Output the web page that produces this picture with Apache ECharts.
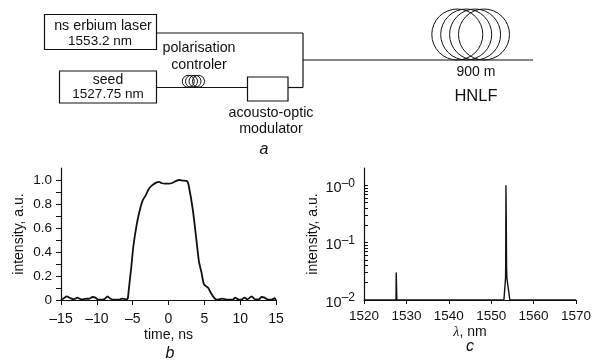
<!DOCTYPE html>
<html>
<head>
<meta charset="utf-8">
<style>html,body{margin:0;padding:0;background:#fff}#main{width:601px;height:360px}</style>
<script src="https://cdn.jsdelivr.net/npm/echarts@6/dist/echarts.min.js"></script>
</head>
<body>
<div id="main"></div>
<script>
// panel b: pulse shape
var pulseTime = [-15,-14.6,-14.2,-13.7,-13.2,-12.7,-12.2,-11.6,-11,-10.6,-10.2,-9.8,-9,-8.5,-8.1,-7.5,-6.8,-6.5,-6,-5.7,-5.5,-5.2,-4.9,-4.4,-4,-3.6,-3.2,-2.8,-2.3,-1.65,-1.3,-1,-0.5,0,0.5,1,1.5,2,2.6,2.8,3.4,3.8,4.25,4.6,4.95,5.55,5.9,6.4,6.7,7,7.5,8,8.5,9,9.3,9.7,10.2,10.6,11,11.6,12.1,12.6,13,13.4,13.9,14.4,14.8,15];
var pulseValue = [0,0.015,0.03,0.015,0.005,0.02,0.005,0.01,0.012,0.025,0.02,0.003,0.005,0.03,0.01,0.002,0.003,0.012,0.005,0.01,0.11,0.27,0.45,0.64,0.75,0.83,0.87,0.92,0.955,0.98,0.985,0.975,0.97,0.97,0.975,0.99,1,0.995,0.99,0.96,0.75,0.55,0.32,0.23,0.13,0.1,0.06,0.015,0.003,0.005,0.012,0.005,0.003,0.003,0.02,0.005,0.003,0.02,0.005,0.03,0.005,0.005,0.025,0.02,0.003,0.003,0.015,0];
var pulseTicks = [0,0.1,0.2,0.3,0.4,0.5,0.6,0.7,0.8,0.9,1];
var pulseLabels = [0,0.2,0.4,0.6,0.8,1];

// panel c: spectrum
var specWave = [1520,1527.55,1527.6,1527.7,1527.75,1553,1553.38,1553.42,1553.48,1553.55,1553.62,1553.7,1554.4,1570];
var specValue = [0.01,0.01,0.03,0.03,0.01,0.01,0.024,0.04,1,0.27,0.04,0.024,0.01,0.01];
var specTicks = [0.01,0.02,0.03,0.04,0.05,0.06,0.07,0.08,0.09,0.1,0.2,0.3,0.4,0.5,0.6,0.7,0.8,0.9,1];
var specLabels = [0.01,0.1,1];

var font = '"Liberation Sans", Arial, sans-serif';
var black = '#111';

function pairs(xs, ys) {
  return xs.map(function (x, i) { return [x, ys[i]]; });
}

function label(text, x, y, size, style) {
  return { type: 'text', x: x, y: y, style: {
    text: text, fill: black, font: (style || '') + ' ' + size + 'px ' + font,
    align: 'center', verticalAlign: 'middle'
  } };
}
function wire(x1, y1, x2, y2) {
  return { type: 'line', shape: { x1: x1, y1: y1, x2: x2, y2: y2 }, style: { stroke: black, lineWidth: 1.2 } };
}
function box(x, y, w, h) {
  return { type: 'rect', shape: { x: x, y: y, width: w, height: h }, style: { fill: '#fff', stroke: black, lineWidth: 1.2 } };
}
function coil(cx, cy, r) {
  return { type: 'circle', shape: { cx: cx, cy: cy, r: r }, style: { fill: 'none', stroke: black, lineWidth: 1 } };
}

// schematic a
var schematic = [
  wire(156.5, 33, 303, 33), wire(303, 33, 303, 87.5), wire(303, 87.5, 288, 87.5),
  wire(156.5, 87.5, 247.5, 87.5), wire(303, 60, 533, 60),
  box(44.5, 14.5, 112, 35), box(59.5, 71, 97, 32), box(247.5, 77, 40.5, 24),
  coil(457.3, 34.5, 25.5), coil(466.2, 34.5, 25.5), coil(475.1, 34.5, 25.5), coil(484, 34.5, 25.5),
  coil(188.3, 81.3, 6), coil(191.5, 81.3, 6), coil(195, 81.3, 6), coil(198.5, 81.3, 6),
  label('ns erbium laser', 103, 26, 14.3), label('1553.2 nm', 100, 41.5, 13.5),
  label('seed', 108, 80, 14), label('1527.75 nm', 108, 94.5, 13.5),
  label('polarisation', 199, 48, 14.3), label('controler', 199, 65, 14.3),
  label('acousto-optic', 271, 113, 14.3), label('modulator', 271, 129.5, 14.3),
  label('a', 264, 150, 16, 'italic'),
  label('900 m', 476, 72.5, 14), label('HNLF', 476, 96, 16.5),
  label('b', 170, 354, 16, 'italic'), label('c', 470, 347, 16, 'italic')
];

var axisLine = { onZero: false, lineStyle: { color: black, width: 1.2 } };
var tickLine = { color: black, width: 1 };

var option = {
  animation: false,
  textStyle: { fontFamily: font },
  graphic: schematic,
  grid: [
    { left: 61, top: 168, width: 215, height: 132 },
    { left: 364, top: 168, width: 212, height: 132 }
  ],
  xAxis: [
    {
      type: 'value', gridIndex: 0, min: -15, max: 15, interval: 5,
      axisLine: axisLine,
      axisTick: { length: 5, lineStyle: tickLine },
      splitLine: { show: false },
      axisLabel: {
        color: black, fontSize: 14, margin: 12, showMinLabel: true, showMaxLabel: true,
        formatter: function (v) { return String(v).replace('-', '\u2013'); }
      },
      name: 'time, ns', nameLocation: 'middle', nameGap: 28,
      nameTextStyle: { color: black, fontSize: 14 }
    },
    {
      type: 'value', gridIndex: 1, min: 1520, max: 1570, interval: 10,
      axisLine: axisLine,
      axisTick: { length: 4, lineStyle: tickLine },
      splitLine: { show: false },
      axisLabel: {
        color: black, fontSize: 13.5, margin: 9, showMinLabel: true, showMaxLabel: true,
        formatter: function (v) { return String(v); }
      },
      name: '{i|\u03bb}, nm', nameLocation: 'middle', nameGap: 25,
      nameTextStyle: {
        color: black, fontSize: 14,
        rich: { i: { fontStyle: 'italic', fontFamily: '"Liberation Serif", serif', fontSize: 14 } }
      }
    }
  ],
  yAxis: [
    {
      type: 'value', gridIndex: 0, min: 0, max: 1.1, interval: 0.1,
      axisLine: axisLine,
      axisTick: { length: 5, lineStyle: tickLine, customValues: pulseTicks },
      splitLine: { show: false },
      axisLabel: {
        color: black, fontSize: 13.5, margin: 9, customValues: pulseLabels,
        formatter: function (v) { return v === 0 ? '0' : v.toFixed(1); }
      },
      name: 'intensity, a.u.', nameLocation: 'middle', nameGap: 35, nameRotate: 90,
      nameTextStyle: { color: black, fontSize: 14 }
    },
    {
      type: 'log', gridIndex: 1, logBase: 10, min: 0.01, max: 2,
      axisLine: axisLine,
      axisTick: { inside: true, length: 4, lineStyle: tickLine, customValues: specTicks },
      splitLine: { show: false },
      axisLabel: {
        color: black, margin: 9, customValues: specLabels,
        formatter: function (v) {
          return '{b|10}{s|\u2013' + Math.round(-Math.log10(v)) + '}';
        },
        rich: {
          b: { fontSize: 14.5, color: black, padding: [5, 0, 0, 0] },
          s: { fontSize: 12, color: black, padding: [0, 0, 4, 0] }
        }
      },
      name: 'intensity, a.u.', nameLocation: 'middle', nameGap: 44, nameRotate: 90,
      nameTextStyle: { color: black, fontSize: 14 }
    }
  ],
  series: [
    {
      type: 'line', xAxisIndex: 0, yAxisIndex: 0, data: pairs(pulseTime, pulseValue),
      showSymbol: false, smooth: 0.2, clip: false,
      lineStyle: { color: black, width: 1.8 }
    },
    {
      type: 'line', xAxisIndex: 1, yAxisIndex: 1, data: pairs(specWave, specValue),
      showSymbol: false, lineStyle: { color: black, width: 1.4 }
    }
  ]
};

var myChart = echarts.init(document.getElementById('main'));
myChart.setOption(option);
</script>
</body>
</html>
